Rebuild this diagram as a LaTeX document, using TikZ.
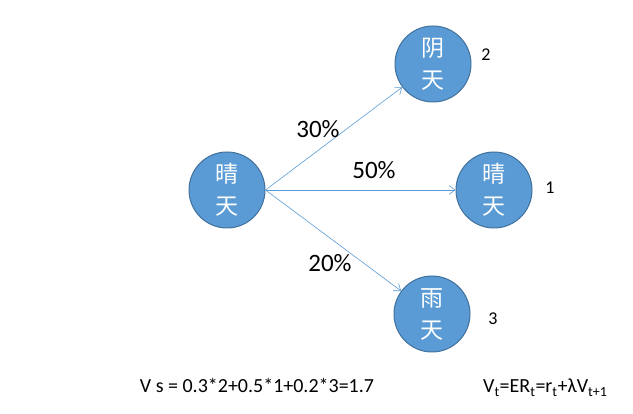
\documentclass[tikz,border=0pt]{standalone}
\usepackage{fontspec}
\setmainfont{Carlito}
\newfontfamily\cjk{Noto Sans CJK SC}
\usetikzlibrary{arrows.meta}
\definecolor{wblue}{RGB}{91,155,213}
\definecolor{wedge}{RGB}{65,113,156}
\begin{document}
\begin{tikzpicture}[x=1pt,y=1pt,
  state/.style={circle,fill=wblue,draw=wedge,line width=1pt,minimum size=76pt,inner sep=0pt,
    text=white,align=center,font=\cjk\fontsize{23}{32}\selectfont},
  trans/.style={draw=wblue,line width=0.6pt,-{Straight Barb[length=6pt,width=9pt]}},
  prob/.style={font=\fontsize{25}{28}\selectfont},
  reward/.style={font=\fontsize{18}{20}\selectfont},
  formula/.style={font=\fontsize{20}{24}\selectfont}]
\useasboundingbox (0,0) rectangle (633,414);
% states
\node[state] (now) at (227,224) {晴\\天};
\node[state] (cloudy) at (433,350) {阴\\天};
\node[state] (sunny) at (494,224) {晴\\天};
\node[state] (rainy) at (432,100) {雨\\天};
% rewards
\node[reward] (r2) at (486,359) {2};
\node[reward] (r1) at (550,226) {1};
\node[reward] (r3) at (493,95) {3};
% transitions
\draw[trans] (now.east) -- (cloudy);
\draw[trans] (now.east) -- (sunny);
\draw[trans] (now.east) -- (rainy);
\node[prob] (p1) at (318,285) {30\%};
\node[prob] (p2) at (374,244) {50\%};
\node[prob] (p3) at (330,151) {20\%};
% value
\node[formula,anchor=base] (vs) at (257,21) {V s = 0.3*2+0.5*1+0.2*3=1.7};
\node[formula,anchor=base west,inner sep=0pt] (vt) at (483,21)
  {V\textsubscript{t}=ER\textsubscript{t}=r\textsubscript{t}+λV\textsubscript{t+1}};
\end{tikzpicture}
\end{document}
